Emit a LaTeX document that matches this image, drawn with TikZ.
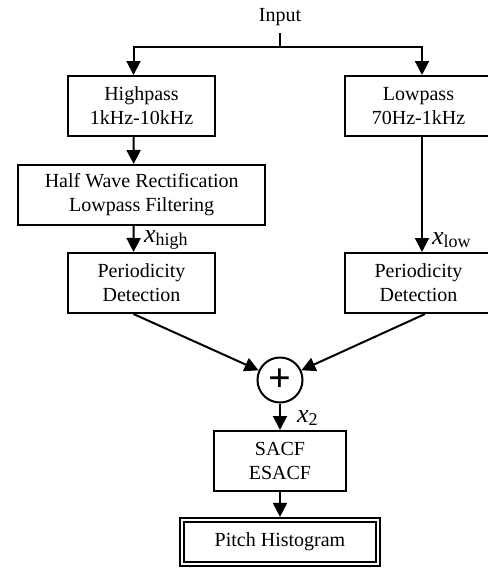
\documentclass[tikz,border=0pt]{standalone}
\usepackage{fontspec}
\setmainfont{Liberation Serif}
\usetikzlibrary{arrows.meta}

\newcommand{\sig}[2]{{\fontsize{13}{14}\selectfont\itshape #1}\raisebox{-1.5pt}{\fontsize{9}{10}\selectfont #2}}

\begin{document}
\begin{tikzpicture}
	 [x=0.5pt,y=-0.5pt,line width=1pt,>={Triangle[length=7pt,width=7pt]},
	  every node/.style={font=\fontsize{10}{12}\selectfont,align=center},
	  blk/.style={draw,minimum width=73.5pt,minimum height=30pt,inner sep=1pt},
	  lbl/.style={anchor=west,inner sep=0pt}]
	\useasboundingbox (0,0) rectangle (488,569);

	  \node (input) at (280,17) {Input};
	  \coordinate (split) at (280,47);

	  \node[blk] (hp) at (141.5,106) {Highpass\\1kHz-10kHz};
	  \node[blk] (lp) at (418.5,106) {Lowpass\\70Hz-1kHz};
	  \node[blk,minimum width=123.5pt] (hwr) at (141.7,195) {Half Wave Rectification\\Lowpass Filtering};
	  \node[blk] (pdh) at (141.5,283) {Periodicity\\Detection};
	  \node[blk] (pdl) at (418.5,283) {Periodicity\\Detection};

	  \node[draw,circle,minimum size=22.5pt,inner sep=0pt] (sum) at (280,380) {\fontsize{20}{20}\selectfont\bfseries +};
	  \node[blk,minimum width=66pt] (sacf) at (280,461) {SACF\\ESACF};
	  \node[draw,double,double distance=1.3pt,line width=0.9pt,minimum width=98pt,minimum height=22pt] (pitch) at (280,542) {Pitch Histogram};

%	labels
	  \node[lbl] (xh) at (143,240) {\sig{x}{high}};
	  \node[lbl] (xl) at (431,240) {\sig{x}{low}};
	  \node[lbl] (x2) at (296,418) {\sig{x}{2}};

	\draw (input) -- (split);
	\draw[->] (split) -| ([xshift=-4pt]hp.north);
	\draw[->] (split) -| ([xshift=1.75pt]lp.north);

	\foreach \from/\to in {hp/hwr,hwr/pdh}
    \draw[->] ([xshift=-4pt]\from.south) -- ([xshift=-4pt]\to.north);
	\draw[->] ([xshift=1.75pt]lp.south) -- ([xshift=1.75pt]pdl.north);

	\draw[->] ([xshift=-4pt]pdh.south) -- (sum);
	\draw[->] ([xshift=3.25pt]pdl.south) -- (sum);

	\draw[->] (sum) -- (sacf);
	\draw[->,shorten >=1.1pt] (sacf) -- (pitch);

\end{tikzpicture}
\end{document}
